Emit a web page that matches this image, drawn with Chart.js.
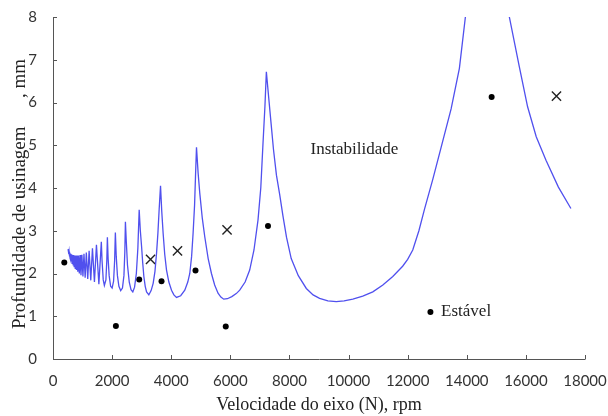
<!DOCTYPE html>
<html>
<head>
<meta charset="utf-8">
<script src="https://cdn.jsdelivr.net/npm/chart.js@4.4.1/dist/chart.umd.min.js"></script>
<style>
  html, body { margin: 0; background: #fff; }
</style>
</head>
<body>
<canvas id="chart" width="608" height="416"></canvas>
<script>
// stability lobe boundary
const lobeRpm = [
  510, 535, 545, 555, 566, 577, 588, 600, 612, 625, 638, 652, 667, 683, 699, 716, 734, 753, 772, 793,
  815, 839, 863, 890, 917, 947, 978, 1013, 1048, 1088, 1128, 1175, 1222, 1278, 1335, 1402, 1470, 1552,
  1635, 1660, 1700, 1738, 1790, 1820, 1840, 1865, 1900, 1950, 2000, 2050, 2085, 2110, 2140, 2180, 2230,
  2290, 2350, 2400, 2430, 2450, 2480, 2520, 2580, 2640, 2700, 2760, 2820, 2872, 2916, 2955, 2997, 3035,
  3074, 3120, 3166, 3243, 3320, 3389, 3450, 3503, 3550, 3591, 3638, 3680, 3726, 3780, 3841, 3920, 4010,
  4090, 4179, 4320, 4459, 4560, 4628, 4690, 4740, 4790, 4821, 4855, 4910, 4966, 5050, 5135, 5250, 5361,
  5470, 5584, 5680, 5777, 5900, 6050, 6200, 6318, 6500, 6655, 6800, 6936, 7030, 7105, 7170, 7219, 7300,
  7380, 7460, 7560, 7669, 7780, 7900, 8060, 8300, 8571, 8800, 9020, 9300, 9584, 9850, 10145, 10480,
  10821, 11160, 11497, 11830, 12000, 12172, 12380, 12568, 12850, 13132, 13470, 13750, 13953, 14600,
  15440, 15777, 16058, 16350, 16680, 17100, 17523
];
const lobeDepth = [
  2.57, 2.45, 2.51, 2.40, 2.49, 2.36, 2.47, 2.32, 2.45, 2.28, 2.44, 2.24, 2.43, 2.20, 2.43, 2.16, 2.42, 2.12, 2.42, 2.08,
  2.42, 2.04, 2.42, 2.00, 2.43, 1.96, 2.44, 1.93, 2.46, 1.90, 2.49, 1.87, 2.53, 1.84, 2.59, 1.80, 2.67, 1.75,
  2.74, 2.30, 1.85, 1.72, 1.85, 2.30, 2.85, 2.35, 1.95, 1.70, 1.66, 1.82, 2.30, 2.96, 2.40, 1.95, 1.70,
  1.60, 1.66, 1.95, 2.50, 3.21, 2.75, 2.20, 1.80, 1.62, 1.57, 1.68, 2.00, 2.60, 3.49, 3.00, 2.63, 2.25,
  1.93, 1.70, 1.57, 1.50, 1.60, 1.77, 2.05, 2.47, 2.95, 3.49, 4.05, 3.45, 2.94, 2.45, 2.08, 1.80, 1.61,
  1.50, 1.44, 1.48, 1.61, 1.80, 2.00, 2.40, 2.94, 3.60, 4.26, 4.95, 4.35, 3.88, 3.30, 2.86, 2.35, 2.00,
  1.73, 1.54, 1.45, 1.40, 1.41, 1.46, 1.53, 1.61, 1.80, 2.08, 2.55, 3.25, 4.00, 5.04, 5.90, 6.72, 6.10,
  5.50, 4.90, 4.30, 3.85, 3.35, 2.85, 2.35, 1.95, 1.65, 1.50, 1.42, 1.36, 1.34, 1.36, 1.40, 1.47,
  1.57, 1.73, 1.93, 2.17, 2.33, 2.55, 3.00, 3.50, 4.20, 4.95, 5.85, 6.80, 8.00, 11.50,
  8.00, 6.84, 5.90, 5.20, 4.65, 4.02, 3.52
];

// cuts that stayed stable (dots) and cuts with chatter (x)
const stableRpm = [382, 2128, 2916, 3672, 4821, 5845, 7274, 12770, 14841];
const stableDepth = [2.26, 0.77, 1.86, 1.82, 2.07, 0.76, 3.11, 1.10, 6.13];
const chatterRpm = [3300, 4212, 5889, 17035];
const chatterDepth = [2.33, 2.53, 3.02, 6.15];

const xTicks = [0, 2000, 4000, 6000, 8000, 10000, 12000, 14000, 16000, 18000];
const yTicks = [0, 1, 2, 3, 4, 5, 6, 7, 8];

const toPoints = (xs, ys) => xs.map((v, i) => ({ x: v, y: ys[i] }));

const serif = '"Liberation Serif", "Times New Roman", serif';
const sans = 'Lato, "Open Sans", sans-serif';

// axis lines, inward ticks, titles and the two region labels
const decor = {
  id: "decor",
  afterDraw(chart) {
    const { ctx, chartArea: a, scales: { x, y } } = chart;
    ctx.save();
    ctx.strokeStyle = "#555";
    ctx.lineWidth = 1;
    ctx.beginPath();
    ctx.moveTo(a.left + 0.5, a.top);
    ctx.lineTo(a.left + 0.5, a.bottom + 0.5);
    ctx.lineTo(a.right + 0.5, a.bottom + 0.5);
    xTicks.forEach((v) => {
      const px = Math.round(x.getPixelForValue(v)) + 0.5;
      ctx.moveTo(px, a.bottom);
      ctx.lineTo(px, a.bottom - 4);
    });
    yTicks.forEach((v) => {
      const py = Math.round(y.getPixelForValue(v)) + 0.5;
      ctx.moveTo(a.left, py);
      ctx.lineTo(a.left + 4, py);
    });
    ctx.stroke();

    ctx.fillStyle = "#222";
    ctx.font = "17px " + serif;
    ctx.textBaseline = "middle";
    ctx.textAlign = "center";
    ctx.fillText("Instabilidade", x.getPixelForValue(10200), y.getPixelForValue(4.91));
    ctx.textAlign = "left";
    ctx.fillText("Estável", x.getPixelForValue(13130), y.getPixelForValue(1.12));

    ctx.font = "18px " + serif;
    ctx.textAlign = "center";
    ctx.fillText("Velocidade do eixo (N), rpm", (a.left + a.right) / 2, 405);
    ctx.font = "19px " + serif;
    ctx.translate(20, 194);
    ctx.rotate(-Math.PI / 2);
    ctx.fillText("Profundidade de usinagem      , mm", 0, 0);
    ctx.restore();
  }
};

new Chart(document.getElementById("chart"), {
  type: "scatter",
  data: {
    datasets: [
      {
        data: toPoints(lobeRpm, lobeDepth),
        showLine: true,
        borderColor: "rgb(80, 80, 238)",
        borderWidth: 1.3,
        pointRadius: 0,
        tension: 0
      },
      {
        data: toPoints(stableRpm, stableDepth),
        pointStyle: "circle",
        pointRadius: 3,
        backgroundColor: "#000",
        borderColor: "#000",
        borderWidth: 0
      },
      {
        data: toPoints(chatterRpm, chatterDepth),
        pointStyle: "crossRot",
        pointRadius: 6.5,
        borderColor: "#222",
        borderWidth: 1.4
      }
    ]
  },
  options: {
    responsive: false,
    animation: false,
    layout: { padding: { top: 17, right: 23, left: 0, bottom: 0 } },
    plugins: { legend: { display: false }, tooltip: { enabled: false } },
    scales: {
      x: {
        min: 0,
        max: 18000,
        grid: { display: false },
        border: { display: false },
        afterFit: (s) => { s.height = 57; s.paddingLeft = 0; s.paddingRight = 0; },
        afterBuildTicks: (s) => { s.ticks = xTicks.map((v) => ({ value: v })); },
        ticks: {
          padding: 5, color: "#333", maxRotation: 0,
          font: { family: sans, size: 15 },
          callback: (v) => String(v)
        }
      },
      y: {
        min: 0,
        max: 8,
        grid: { display: false },
        border: { display: false },
        afterFit: (s) => { s.width = 53; s.paddingTop = 0; s.paddingBottom = 0; },
        afterBuildTicks: (s) => { s.ticks = yTicks.map((v) => ({ value: v })); },
        ticks: {
          padding: 8, color: "#333",
          font: { family: sans, size: 15 },
          callback: (v) => String(v)
        }
      }
    }
  },
  plugins: [decor]
});
</script>
</body>
</html>
